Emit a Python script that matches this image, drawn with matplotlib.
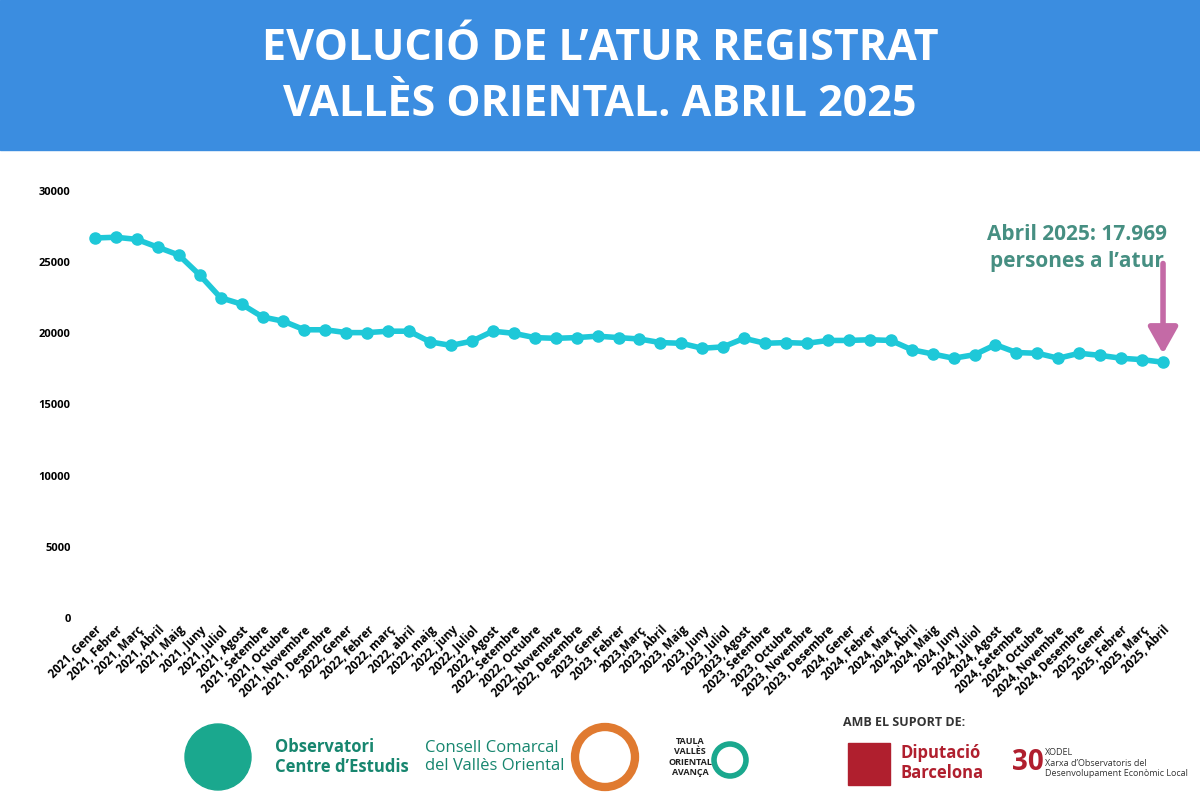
import matplotlib
matplotlib.use("Agg")
import matplotlib.pyplot as plt
from matplotlib.patches import Rectangle, Ellipse

months = ["Gener", "Febrer", "Març", "Abril", "Maig", "Juny", "Juliol", "Agost",
          "Setembre", "Octubre", "Novembre", "Desembre"]
labels = ([f"2021, {m}" for m in months] +
          ["2022, Gener", "2022, febrer", "2022, març", "2022, abril", "2022, maig", "2022, juny",
           "2022, Juliol", "2022, Agost", "2022, Setembre", "2022, Octubre", "2022, Novembre", "2022, Desembre"] +
          ["2023, Gener", "2023, Febrer", "2023,Març"] + [f"2023, {m}" for m in months[3:]] +
          [f"2024, {m}" for m in months] +
          ["2025, Gener", "2025, Febrer", "2025, Març", "2025, Abril"])
values = [26700, 26750, 26600, 26050, 25500, 24100, 22500, 22050, 21150, 20850, 20250, 20250,
          20050, 20050, 20150, 20150, 19400, 19150, 19450, 20150, 20000, 19700, 19650, 19700,
          19800, 19700, 19600, 19350, 19300, 18950, 19050, 19650, 19300, 19350, 19300, 19500,
          19500, 19550, 19500, 18850, 18550, 18250, 18500, 19200, 18650, 18600, 18250, 18600,
          18450, 18250, 18150, 17969]
yticks = [0, 5000, 10000, 15000, 20000, 25000, 30000]

fig = plt.figure(figsize=(12, 8), dpi=100)
fig.patch.set_facecolor("white")

# header
fig.patches.append(Rectangle((0, 1 - 150/800), 1, 150/800, transform=fig.transFigure,
                             color="#3b8de0", zorder=0))
fig.text(0.5, 1 - 48/800, "EVOLUCIÓ DE L’ATUR REGISTRAT", ha="center", va="center",
         color="white", fontsize=31, fontweight="bold", family="Open Sans")
fig.text(0.5, 1 - 105/800, "VALLÈS ORIENTAL. ABRIL 2025", ha="center", va="center",
         color="white", fontsize=31, fontweight="bold", family="Open Sans")

ax = fig.add_axes([84.5/1200, 1 - 618/800, (1173.5 - 84.5)/1200, (618 - 191)/800])
x = list(range(len(values)))
ax.plot(x, values, color="#1ec8d8", lw=4, marker="o", ms=8, zorder=3)
ax.set_xlim(-0.5, len(values) - 0.5)
ax.set_ylim(0, 30000)
ax.set_yticks(yticks)
ax.set_yticklabels([str(v) for v in yticks], fontsize=8, fontweight="bold", family="Open Sans")
ax.set_xticks(x)
ax.set_xticklabels(labels, rotation=45, ha="right", rotation_mode="anchor", fontsize=8.5,
                   fontweight="bold", family="Open Sans")
for s in ax.spines.values():
    s.set_visible(False)
ax.tick_params(length=0, pad=10)
ax.tick_params(axis="x", pad=4)

ax.text(len(values) - 0.8, 26000, "Abril 2025: 17.969\npersones a l’atur", ha="right", va="center",
        color="#468f82", fontsize=15, fontweight="bold", family="Open Sans", linespacing=1.4,
        multialignment="center")
ax.annotate("", xy=(len(values) - 1, values[-1] + 400), xytext=(len(values) - 1, 25100),
            arrowprops=dict(arrowstyle="-|>,head_width=0.9,head_length=1.6", color="#c46aa6", lw=4),
            zorder=4)

# footer logos (approximated)
def circ(cx, cy, r, **kw):
    fig.patches.append(Ellipse((cx/1200, 1 - cy/800), 2*r/1200, 2*r/800,
                               transform=fig.transFigure, **kw))

circ(218, 757, 33, color="#1aa88e")
fig.text(275/1200, 1 - 757/800, "Observatori\nCentre d’Estudis", ha="left", va="center",
         color="#17866f", fontsize=12, fontweight="bold", family="Open Sans")
fig.text(425/1200, 1 - 757/800, "Consell Comarcal\ndel Vallès Oriental", ha="left", va="center",
         color="#17866f", fontsize=12, family="Open Sans")
circ(605, 757, 30, fill=False, ec="#e07a30", lw=6)
fig.text(690/1200, 1 - 757/800, "TAULA\nVALLÈS\nORIENTAL\nAVANÇA", ha="center", va="center",
         color="#222222", fontsize=6.5, fontweight="bold", family="Open Sans")
circ(730, 760, 16, fill=False, ec="#1aa88e", lw=4)
fig.text(843/1200, 1 - 722/800, "AMB EL SUPORT DE:", ha="left", va="center",
         color="#333333", fontsize=9, fontweight="bold", family="Open Sans")
fig.patches.append(Rectangle((848/1200, 1 - 785/800), 42/1200, 42/800, transform=fig.transFigure,
                             color="#b01f2e"))
fig.text(900/1200, 1 - 763/800, "Diputació\nBarcelona", ha="left", va="center",
         color="#b01f2e", fontsize=12, fontweight="bold", family="Open Sans")
fig.text(1012/1200, 1 - 763/800, "30", ha="left", va="center", color="#b01f2e",
         fontsize=20, fontweight="bold", family="Open Sans")
fig.text(1045/1200, 1 - 763/800, "XODEL\nXarxa d’Observatoris del\nDesenvolupament Econòmic Local",
         ha="left", va="center", color="#333333", fontsize=6.5, family="Open Sans")

fig.savefig("out.png", dpi=100, facecolor="white")
